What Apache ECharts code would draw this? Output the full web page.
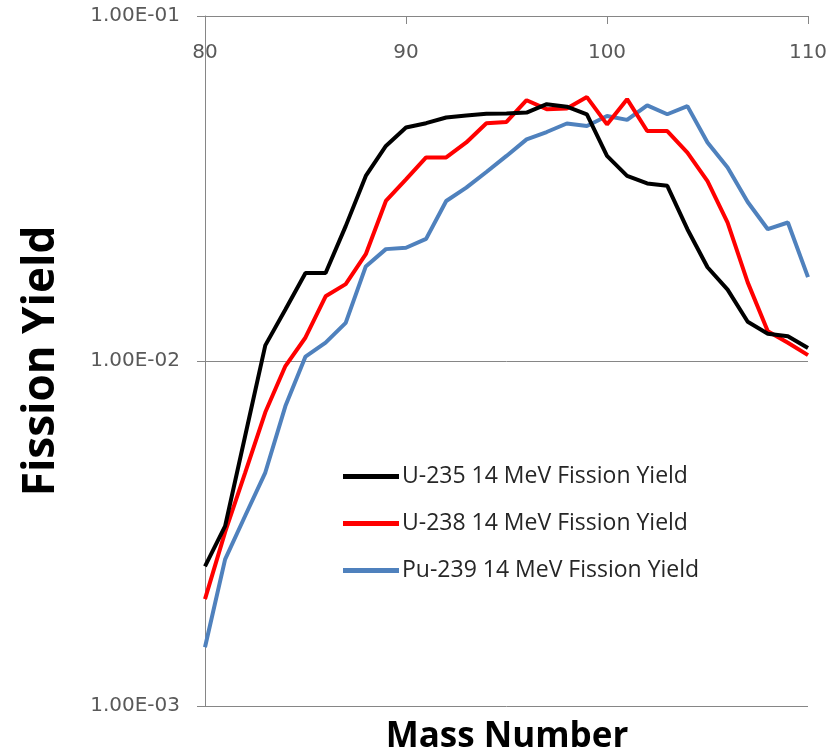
<!DOCTYPE html>
<html>
<head>
<meta charset="utf-8">
<script src="https://cdn.jsdelivr.net/npm/echarts@6/dist/echarts.min.js"></script>
<style>
  html, body { margin: 0; padding: 0; background: #fff; }
  #chart { width: 835px; height: 754px; }
</style>
</head>
<body>
<div id="chart"></div>
<script>
// mass numbers 80..110
const massNumbers = [80, 81, 82, 83, 84, 85, 86, 87, 88, 89, 90, 91, 92, 93, 94, 95,
  96, 97, 98, 99, 100, 101, 102, 103, 104, 105, 106, 107, 108, 109, 110];

const u235 = [0.00254, 0.00332, 0.00607, 0.0111, 0.0141, 0.0180, 0.0180, 0.0246, 0.0344, 0.0420,
  0.0475, 0.0489, 0.0508, 0.0515, 0.0521, 0.0522, 0.0525, 0.0555, 0.0546, 0.0519,
  0.0393, 0.0344, 0.0327, 0.0322, 0.0241, 0.0187, 0.0161, 0.0130, 0.0120, 0.0118, 0.0109];

const u238 = [0.00204, 0.00319, 0.00475, 0.0071, 0.00967, 0.0117, 0.0154, 0.0167, 0.0204, 0.0291,
  0.0336, 0.0389, 0.0389, 0.0430, 0.0489, 0.0493, 0.0570, 0.0537, 0.0539, 0.0582,
  0.0485, 0.0574, 0.0464, 0.0464, 0.0402, 0.0332, 0.0252, 0.0169, 0.0122, 0.0113, 0.0104];

const pu239 = [0.00148, 0.00266, 0.00356, 0.00475, 0.0074, 0.0103, 0.0113, 0.0129, 0.0188, 0.0211,
  0.0213, 0.0226, 0.0291, 0.0318, 0.0353, 0.0393, 0.0439, 0.0461, 0.0488, 0.0480,
  0.0513, 0.0500, 0.0551, 0.0519, 0.0548, 0.0430, 0.0364, 0.0289, 0.0241, 0.0252, 0.0175];

const seriesNames = ['U-235 14 MeV Fission Yield', 'U-238 14 MeV Fission Yield', 'Pu-239 14 MeV Fission Yield'];
const seriesColors = ['#000000', '#ff0000', '#4f81bd'];

const pair = (ys) => massNumbers.map((x, i) => [x, ys[i]]);

const chart = echarts.init(document.getElementById('chart'), undefined, { renderer: 'canvas' });

const axisGray = '#868686';
const labelGray = '#595959';

chart.setOption({
  backgroundColor: '#fff',
  animation: false,
  grid: { left: 205, right: 27, top: 16, bottom: 48, outerBoundsMode: 'none', containLabel: false },
  legend: {
    orient: 'vertical',
    left: 343,
    top: 465,
    padding: 0,
    itemWidth: 56,
    itemHeight: 5,
    itemGap: 24,
    icon: 'rect',
    textStyle: { fontFamily: 'Open Sans', fontSize: 23, color: '#262626', padding: [0, 0, 0, -2] },
    data: seriesNames
  },
  xAxis: {
    type: 'value',
    position: 'top',
    min: 80,
    max: 110,
    interval: 10,
    axisLine: { onZero: false, lineStyle: { color: axisGray, width: 1 } },
    axisTick: { inside: true, length: 8, lineStyle: { color: axisGray } },
    axisLabel: { inside: true, margin: 27, color: labelGray, fontFamily: 'DejaVu Sans', fontSize: 20 },
    splitLine: { show: false }
  },
  yAxis: {
    type: 'log',
    logBase: 10,
    min: 0.001,
    max: 0.1,
    axisLine: { show: true, lineStyle: { color: axisGray, width: 1 } },
    axisTick: { show: true, length: 8, lineStyle: { color: axisGray } },
    axisLabel: {
      margin: 25,
      color: labelGray,
      fontFamily: 'DejaVu Sans',
      fontSize: 20,
      formatter: (v) => {
        const e = Math.round(Math.log10(v));
        return '1.00E-' + String(-e).padStart(2, '0');
      }
    },
    splitLine: { show: true, lineStyle: { color: axisGray, width: 1 } },
    minorTick: { show: false },
    name: 'Fission Yield',
    nameLocation: 'middle',
    nameGap: 142,
    nameRotate: 90,
    nameTextStyle: { fontFamily: 'Open Sans', fontWeight: 'bold', fontSize: 44, color: '#000' }
  },
  graphic: [{
    type: 'text',
    x: 507,
    y: 737,
    style: {
      text: 'Mass Number',
      fontFamily: 'Open Sans',
      fontWeight: 'bold',
      fontSize: 35,
      fill: '#000',
      align: 'center',
      verticalAlign: 'middle'
    }
  }],
  series: [u235, u238, pu239].map((ys, i) => ({
    name: seriesNames[i],
    type: 'line',
    data: pair(ys),
    symbol: 'none',
    color: seriesColors[i],
    lineStyle: { width: 4, color: seriesColors[i] },
    z: 3 - i
  }))
});

window.addEventListener('resize', () => chart.resize());
</script>
</body>
</html>
